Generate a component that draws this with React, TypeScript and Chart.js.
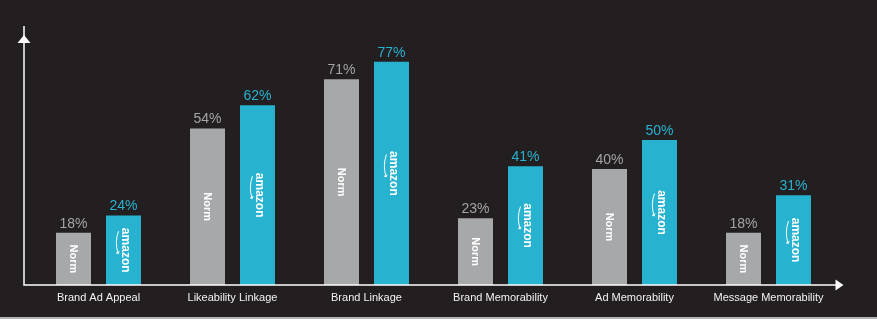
import React, { useEffect, useRef } from "react";
import { Chart, registerables } from "chart.js";

Chart.register(...registerables);

const categories = [
  "Brand Ad Appeal",
  "Likeability Linkage",
  "Brand Linkage",
  "Brand Memorability",
  "Ad Memorability",
  "Message Memorability",
];
const normValues = [18, 54, 71, 23, 40, 18];
const amazonValues = [24, 62, 77, 41, 50, 31];
const seriesNames = ["Norm", "amazon"];

const BG = "#231f20";
const GRAY = "#a7a8aa";
const TEAL = "#27b3cf";
const FONT = "'Liberation Sans', Arial, Helvetica, sans-serif";

const overlayPlugin = {
  id: "overlay",
  afterDatasetsDraw(chart: any) {
    const ctx = chart.ctx;
    const area = chart.chartArea;
    ctx.save();
    chart.data.datasets.forEach((ds: any, di: number) => {
      const meta = chart.getDatasetMeta(di);
      meta.data.forEach((bar: any, i: number) => {
        const v = ds.data[i];
        const x = bar.x;
        const top = bar.y;
        const base = bar.base;
        ctx.fillStyle = di === 0 ? "#a3a4a6" : TEAL;
        ctx.font = `14px ${FONT}`;
        ctx.textAlign = "center";
        ctx.textBaseline = "bottom";
        ctx.fillText(`${v}%`, x, top - 2);
        const cy = (top + base) / 2;
        ctx.save();
        ctx.translate(x, cy);
        ctx.rotate(Math.PI / 2);
        ctx.fillStyle = "#ffffff";
        ctx.textAlign = "center";
        ctx.textBaseline = "middle";
        if (di === 0) {
          ctx.font = `bold 11px ${FONT}`;
          ctx.fillText(seriesNames[0], 0, 0);
        } else {
          ctx.font = `bold 12px ${FONT}`;
          ctx.fillText(seriesNames[1], 0, -2);
          ctx.strokeStyle = "#ffffff";
          ctx.lineWidth = 1;
          ctx.beginPath();
          ctx.moveTo(-19, 5);
          ctx.quadraticCurveTo(-8, 9, 3, 5.5);
          ctx.stroke();
          ctx.beginPath();
          ctx.moveTo(1, 4.5);
          ctx.lineTo(3.5, 5.3);
          ctx.lineTo(2.5, 7.5);
          ctx.stroke();
        }
        ctx.restore();
      });
    });

    const axisX = area.left - 7.5;
    const baseY = area.bottom;
    ctx.strokeStyle = "#ffffff";
    ctx.fillStyle = "#ffffff";
    ctx.lineWidth = 1.5;
    ctx.beginPath();
    ctx.moveTo(axisX, area.top - 1);
    ctx.lineTo(axisX, baseY);
    ctx.lineTo(area.right + 2, baseY);
    ctx.stroke();
    ctx.beginPath();
    ctx.moveTo(axisX, area.top + 8);
    ctx.lineTo(axisX - 6.5, area.top + 16);
    ctx.lineTo(axisX + 6.5, area.top + 16);
    ctx.closePath();
    ctx.fill();
    ctx.beginPath();
    ctx.moveTo(area.right + 8, baseY);
    ctx.lineTo(area.right, baseY - 5.5);
    ctx.lineTo(area.right, baseY + 5.5);
    ctx.closePath();
    ctx.fill();
    ctx.restore();
  },
};

export default function App() {
  const canvasRef = useRef<HTMLCanvasElement | null>(null);

  useEffect(() => {
    if (!canvasRef.current) return;
    const chart = new Chart(canvasRef.current, {
      type: "bar",
      data: {
        labels: categories,
        datasets: [
          {
            label: seriesNames[0],
            data: normValues,
            backgroundColor: GRAY,
            borderWidth: 0,
            categoryPercentage: 0.746,
            barPercentage: 0.7,
          },
          {
            label: seriesNames[1],
            data: amazonValues,
            backgroundColor: TEAL,
            borderWidth: 0,
            categoryPercentage: 0.746,
            barPercentage: 0.7,
          },
        ],
      },
      options: {
        responsive: false,
        animation: false,
        layout: {
          padding: { left: 31.5, right: 41.5, top: 27, bottom: 6.8 },
        },
        plugins: {
          legend: { display: false },
          tooltip: { enabled: false },
        },
        scales: {
          x: {
            grid: { display: false, drawTicks: false, tickLength: 0 },
            border: { display: false },
            ticks: {
              color: "#f2f2f2",
              font: { family: FONT, size: 11 },
              padding: 6,
              maxRotation: 0,
              autoSkip: false,
            },
          },
          y: {
            display: false,
            min: 0,
            max: 89,
          },
        },
      },
      plugins: [overlayPlugin],
    });
    return () => chart.destroy();
  }, []);

  return (
    <div
      style={{
        position: "fixed",
        left: 0,
        top: 0,
        width: 877,
        height: 319,
        background: "#b4b4b4",
      }}
    >
      <div style={{ width: 877, height: 317, background: BG }}>
        <canvas
          ref={canvasRef}
          width={877}
          height={317}
          style={{ display: "block", width: 877, height: 317 }}
        />
      </div>
    </div>
  );
}
